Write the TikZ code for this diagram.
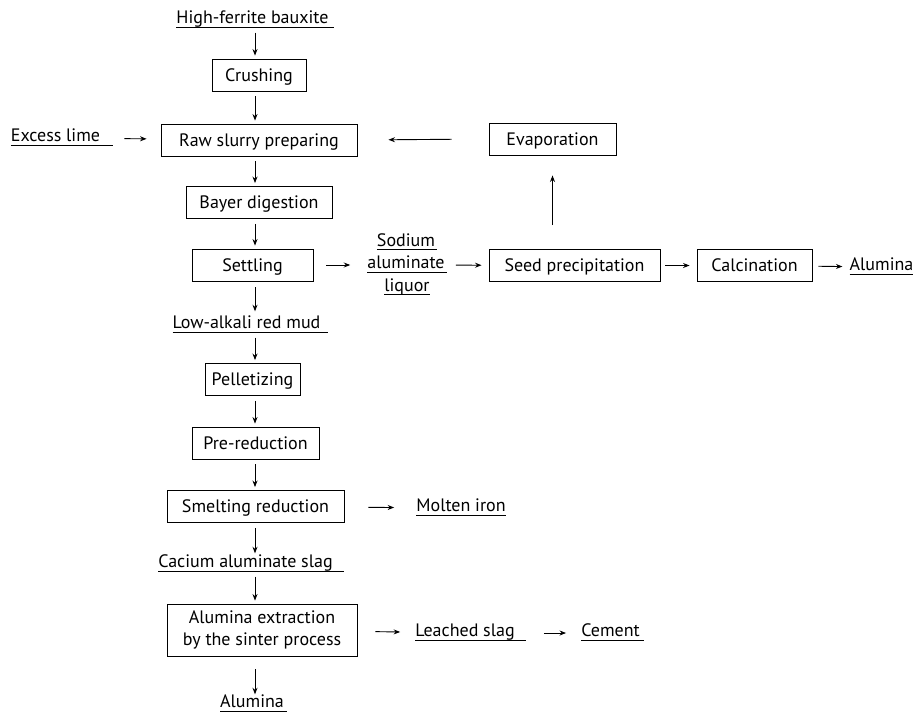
\documentclass[tikz,border=0pt]{standalone}
\usepackage{fontspec}
\setmainfont{PT Sans}
\usetikzlibrary{arrows.meta}
\newcommand{\uln}[2][0pt]{\underline{\smash{#2\hspace{#1}}\rule[-1.6pt]{0pt}{13pt}}}
\begin{document}
\begin{tikzpicture}[x=1pt, y=-1pt,
    font=\fontsize{18}{22.5}\selectfont,
    box/.style={draw, line width=0.9pt, minimum height=32pt, inner sep=2pt, align=center},
    line/.style={text height=13pt, text depth=1pt},
    item/.style={inner sep=0pt, align=center},
    flow/.style={line width=0.9pt, -{Stealth[length=6.5pt, width=5pt]}, shorten <=5pt, shorten >=3pt},
    gap/.style 2 args={shorten <=#1, shorten >=#2}]
    \useasboundingbox (0, 0) rectangle (918, 718);
    \coordinate (spine) at (255, 0);

    % Define nodes for the Bayer line
    \node[item] (bauxite) at (255, 20) {\uln[5pt]{High-ferrite bauxite}};
    \node[box, line, minimum width=94pt] (crush) at (259, 75) {Crushing};
    \node[item] (lime) at (62, 138) {\uln[13pt]{Excess lime}};
    \node[box, line, minimum width=196pt] (raw) at (259, 140) {Raw slurry preparing};
    \node[box, line, minimum width=127pt] (evap) at (552.5, 139) {Evaporation};
    \node[box, line, minimum width=146pt] (bayer) at (259, 202.5) {Bayer digestion};
    \node[box, line, minimum width=121pt] (settle) at (252.5, 265) {Settling};
    \node[item] (liquor) at (407, 265) {\uln[2pt]{Sodium}\\\uln[2pt]{aluminate}\\\uln{liquor}};
    \node[box, line, minimum width=171pt] (seed) at (574.5, 265.5) {Seed precipitation};
    \node[box, line, minimum width=115pt] (calc) at (754.5, 265.5) {Calcination};
    \node[item] (alumina) at (881.5, 267) {\uln{Alumina}};

    % Define nodes for the red mud line
    \node[item] (mud) at (250.5, 325) {\uln[8pt]{Low-alkali red mud}};
    \node[box, line, minimum width=95pt] (pellet) at (252.5, 379.5) {Pelletizing};
    \node[box, line, minimum width=127pt] (prered) at (255.5, 443) {Pre-reduction};
    \node[box, line, minimum width=177pt] (smelt) at (255.5, 506.5) {Smelting reduction};
    \node[item] (iron) at (461, 508) {\uln{Molten iron}};
    \node[item] (cslag) at (251, 564) {\uln[11pt]{Cacium aluminate slag}};
    \node[box, minimum width=190pt, minimum height=52pt] (sinter) at (262, 630) {Alumina extraction\\by the sinter process};
    \node[item] (lslag) at (470.5, 633) {\uln[11pt]{Leached slag}};
    \node[item] (cement) at (612.5, 633) {\uln[4pt]{Cement}};
    \node[item] (product) at (253.5, 704) {\uln[3pt]{Alumina}};

    % Draw edges
    \draw[flow] (bauxite.south -| spine) -- (crush.north -| spine);
    \draw[flow] (crush.south -| spine) -- (raw.north -| spine);
    \draw[flow, gap={11pt}{14pt}] (lime) -- (raw);
    \draw[flow, gap={37pt}{31pt}] (evap.west) -- (raw.east);
    \draw[flow] (raw.south -| spine) -- (bayer.north -| spine);
    \draw[flow] (bayer.south -| spine) -- (settle.north -| spine);
    \draw[flow, gap={13pt}{17pt}] (settle) -- (liquor);
    \draw[flow, gap={9pt}{7pt}] (liquor) -- (seed);
    \draw[flow, gap={24pt}{20pt}] (seed.north -| evap) -- (evap.south);
    \draw[flow, gap={5pt}{7pt}] (seed) -- (calc);
    \draw[flow, gap={6pt}{7pt}] (calc) -- (alumina);
    \draw[flow, gap={6pt}{6pt}] (settle.south -| spine) -- (mud.north -| spine);
    \draw[flow] (mud.south -| spine) -- (pellet.north -| spine);
    \draw[flow] (pellet.south -| spine) -- (prered.north -| spine);
    \draw[flow] (prered.south -| spine) -- (smelt.north -| spine);
    \draw[flow, gap={24pt}{22pt}] (smelt) -- (iron);
    \draw[flow] (smelt.south -| spine) -- (cslag.north -| spine);
    \draw[flow] (cslag.south -| spine) -- (sinter.north -| spine);
    \draw[flow, gap={18pt}{15pt}] (sinter) -- (lslag);
    \draw[flow, gap={18pt}{15pt}] (lslag) -- (cement);
    \draw[flow, gap={13pt}{2pt}] (sinter.south -| spine) -- (product.north -| spine);

\end{tikzpicture}
\end{document}
